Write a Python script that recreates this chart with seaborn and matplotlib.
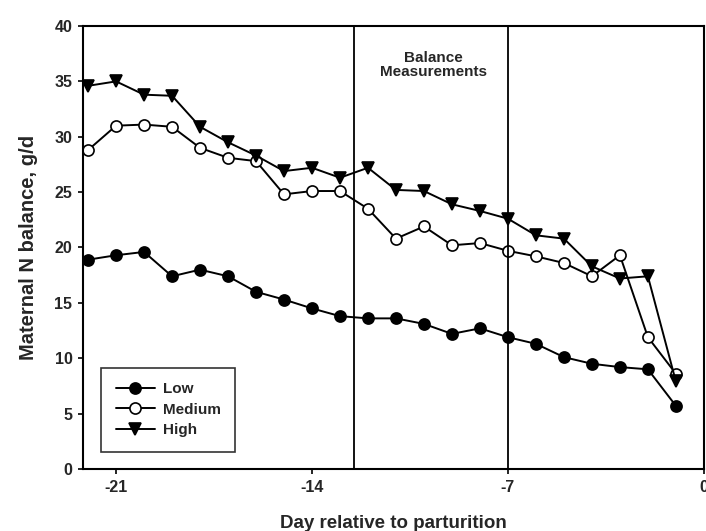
import matplotlib
matplotlib.use("Agg")
import matplotlib.pyplot as plt
import seaborn as sns
import pandas as pd

days = list(range(-22, 0))
low = [18.9, 19.3, 19.6, 17.4, 18.0, 17.4, 16.0, 15.3, 14.5, 13.8, 13.6, 13.6,
       13.1, 12.2, 12.7, 11.9, 11.3, 10.1, 9.5, 9.2, 9.0, 5.7]
medium = [28.8, 31.0, 31.1, 30.9, 29.0, 28.1, 27.8, 24.8, 25.1, 25.1, 23.5, 20.8,
          21.9, 20.2, 20.4, 19.7, 19.2, 18.6, 17.4, 19.3, 11.9, 8.6]
high = [34.6, 35.0, 33.8, 33.7, 30.9, 29.5, 28.3, 26.9, 27.2, 26.3, 27.2, 25.2,
        25.1, 23.9, 23.3, 22.6, 21.1, 20.8, 18.3, 17.2, 17.4, 7.9]
series_names = ["Low", "Medium", "High"]
xticks = [-21, -14, -7, 0]
yticks = [0, 5, 10, 15, 20, 25, 30, 35, 40]
balance_bounds = [-12.5, -7]

sns.set_style("ticks")
plt.rcParams['font.family'] = ['Liberation Sans', 'DejaVu Sans']
plt.rcParams['font.weight'] = 'bold'

fig = plt.figure(figsize=(7.06, 5.31), dpi=100)
ax = fig.add_axes([0.1176, 0.1168, 0.8794, 0.8342])

df = pd.DataFrame({"day": days, "Low": low, "Medium": medium, "High": high})

styles = {
    "Low": dict(marker="o", markerfacecolor="black", markersize=8),
    "Medium": dict(marker="o", markerfacecolor="white", markersize=8),
    "High": dict(marker="v", markerfacecolor="black", markersize=8),
}
for name in series_names:
    sns.lineplot(data=df, x="day", y=name, ax=ax, color="black", linewidth=1.4,
                 markeredgecolor="black", markeredgewidth=1.2, label=name,
                 **styles[name])

for b in balance_bounds:
    ax.axvline(b, color="black", linewidth=1.3)

ax.text(-9.65, 36.5, "Balance\nMeasurements", ha="center", va="center",
        fontsize=11, fontweight="bold", linespacing=1.0)

ax.set_xlim(-22.18, 0)
ax.set_ylim(0, 40)
ax.set_xticks(xticks)
ax.set_xticklabels([str(t) for t in xticks])
ax.set_yticks(yticks)
ax.tick_params(axis="both", direction="out", length=3.6, width=1.2, color="black",
               labelsize=11.5, pad=4)
for lab in ax.get_xticklabels() + ax.get_yticklabels():
    lab.set_fontweight("bold")
for s in ax.spines.values():
    s.set_visible(True)
    s.set_color("black")
    s.set_linewidth(1.5)

ax.set_xlabel("Day relative to parturition", fontsize=13.5, fontweight="bold", labelpad=15)
ax.set_ylabel("Maternal N balance, g/d", fontsize=14.5, fontweight="bold", labelpad=12)

leg = ax.legend(loc="lower left", bbox_to_anchor=(0.029, 0.039), frameon=True,
                fancybox=False, edgecolor="black", fontsize=11, handlelength=2.6,
                borderpad=0.95, labelspacing=0.42, handletextpad=0.5,
                borderaxespad=0)
leg.get_frame().set_linewidth(1.2)
for t in leg.get_texts():
    t.set_fontweight("bold")

fig.savefig("out.png", dpi=100)
